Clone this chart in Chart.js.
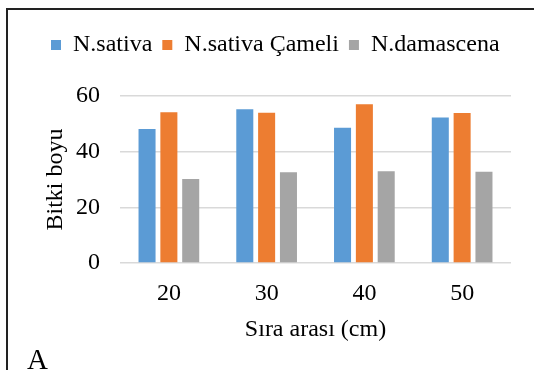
<!DOCTYPE html>
<html>
<head>
<meta charset="utf-8">
<script src="https://cdn.jsdelivr.net/npm/chart.js@4"></script>
<style>
  html, body { margin: 0; padding: 0; background: #fff; overflow: hidden; }
  #wrap { position: relative; width: 534px; height: 370px; }
  #frame { position: absolute; left: 6px; top: 8px; width: 600px; height: 400px; border-left: 2px solid #222; border-top: 2px solid #222; }
  #c { position: absolute; left: 0; top: 0; }
  #lbl { position: absolute; left: 27px; top: 345px; font-family: "Liberation Serif", "Times New Roman", serif; font-size: 29px; line-height: 1; color: #000; }
</style>
</head>
<body>
<div id="wrap">
  <div id="frame"></div>
  <canvas id="c" width="534" height="370"></canvas>
  <div id="lbl">A</div>
</div>
<script>
const categories = ["20", "30", "40", "50"];
const seriesNames = ["N.sativa", "N.sativa Çameli", "N.damascena"];
const sativa = [48.1, 55.2, 48.6, 52.3];
const sativaCameli = [54.2, 54.0, 57.0, 53.9];
const damascena = [30.2, 32.6, 33.0, 32.8];
const yTicks = [0, 20, 40, 60];
const xTitle = "Sıra arası (cm)";
const yTitle = "Bitki boyu";

const FONT = "'Liberation Serif', 'Times New Roman', serif";
const TXT = "#000";

const legendHeightPlugin = {
  id: 'legendHeight',
  afterInit(chart) {
    const lg = chart.legend;
    if (lg && !lg._wrapped) {
      const f = lg.fit.bind(lg);
      lg.fit = function () { f(); this.height = 73; };
      lg._wrapped = true;
    }
  }
};

new Chart(document.getElementById('c'), {
  type: 'bar',
  data: {
    labels: categories,
    datasets: [
      { label: seriesNames[0], data: sativa, backgroundColor: '#5B9BD5' },
      { label: seriesNames[1], data: sativaCameli, backgroundColor: '#ED7D31' },
      { label: seriesNames[2], data: damascena, backgroundColor: '#A5A5A5' }
    ]
  },
  options: {
    responsive: false,
    animation: false,
    devicePixelRatio: 1,
    layout: { padding: { left: 41, right: 0, top: 23, bottom: 0 } },
    datasets: { bar: { categoryPercentage: 0.67, barPercentage: 0.78 } },
    plugins: {
      tooltip: { enabled: false },
      legend: {
        position: 'top',
        align: 'start',
        labels: {
          boxWidth: 10,
          boxHeight: 10,
          padding: 10,
          color: TXT,
          font: { family: FONT, size: 24 }
        }
      }
    },
    scales: {
      x: {
        grid: { display: false, drawTicks: false },
        border: { display: false },
        ticks: { color: TXT, padding: 16, font: { family: FONT, size: 24 } },
        title: { display: true, text: xTitle, color: TXT, font: { family: FONT, size: 24 }, padding: { top: 0, bottom: 25.6 } },
        afterFit(s) { s.height = 107; }
      },
      y: {
        min: 0, max: 60,
        afterBuildTicks(s) { s.ticks = yTicks.map(v => ({ value: v })); },
        grid: { color: '#D9D9D9', lineWidth: 1.5, drawTicks: false },
        border: { display: false },
        ticks: { color: TXT, padding: 20, font: { family: FONT, size: 24 } },
        title: { display: true, text: yTitle, color: TXT, font: { family: FONT, size: 24 }, padding: { top: 0, bottom: 0 } },
        afterFit(s) { s.width = 79; }
      },
      yR: {
        position: 'right',
        display: true,
        grid: { display: false },
        border: { display: false },
        ticks: { display: false },
        afterFit(s) { s.width = 23; }
      }
    }
  },
  plugins: [legendHeightPlugin]
});
</script>
</body>
</html>
